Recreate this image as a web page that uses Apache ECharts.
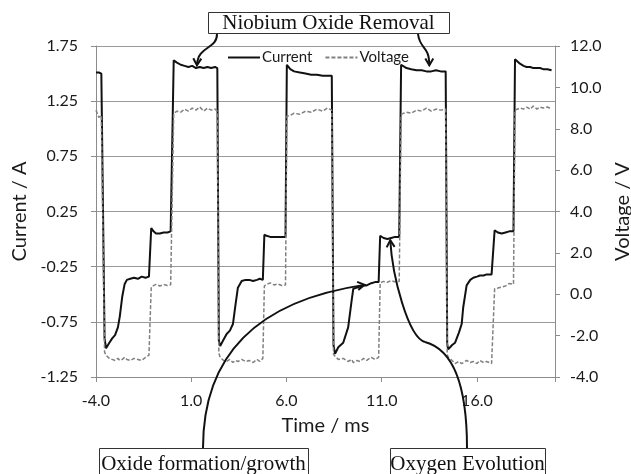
<!DOCTYPE html>
<html>
<head>
<meta charset="UTF-8">
<title>Current / Voltage pulses</title>
<style>
  html, body { margin: 0; padding: 0; background: #fff; }
  #main { width: 631px; height: 474px; }
</style>
</head>
<body>
<div id="main"></div>
<script src="https://cdn.jsdelivr.net/npm/echarts@6/dist/echarts.min.js"></script>
<script>
// shared time base, ms
var timeMs = [
  -4.00, -3.85, -3.72, -3.66,
  -3.55, -3.47, -3.30, -3.15, -3.00, -2.85, -2.75, -2.62, -2.50, -2.38, -2.20, -2.00, -1.80, -1.60, -1.40, -1.22, -1.16,
  -1.10, -0.98, -0.85, -0.65, -0.45, -0.25, -0.08, 0.02,
  0.08, 0.25, 0.45, 0.65, 0.85, 1.05, 1.25, 1.45, 1.65, 1.85, 2.05, 2.25, 2.37,
  2.45, 2.52, 2.70, 2.86, 3.03, 3.19, 3.32, 3.45, 3.65, 3.85, 4.05, 4.25, 4.45, 4.60, 4.76,
  4.84, 4.95, 5.15, 5.35, 5.55, 5.75, 5.95,
  6.02, 6.20, 6.40, 6.70, 7.00, 7.30, 7.60, 7.90, 8.15, 8.38,
  8.47, 8.55, 8.72, 8.98, 9.24, 9.42, 9.51, 9.70, 9.86, 10.05, 10.21, 10.45, 10.65, 10.84,
  10.92, 11.10, 11.30, 11.50, 11.70, 11.92,
  12.02, 12.30, 12.55, 12.83, 13.10, 13.35, 13.60, 13.85, 14.10, 14.36,
  14.44, 14.49, 14.70, 14.85, 15.05, 15.20, 15.28, 15.46, 15.65, 15.81, 16.00, 16.16, 16.35, 16.51, 16.77, 16.86,
  16.93, 17.10, 17.30, 17.50, 17.70, 17.92,
  18.00, 18.26, 18.45, 18.61, 18.80, 18.96, 19.15, 19.31, 19.48, 19.70, 19.92
];
var currentA = [
  1.51, 1.51, 1.50, 1.50,
  -0.90, -0.99, -0.94, -0.90, -0.87, -0.80, -0.70, -0.52, -0.41, -0.37, -0.36, -0.35, -0.36, -0.34, -0.35, -0.34, -0.35,
  0.10, 0.07, 0.05, 0.05, 0.06, 0.06, 0.07, 0.07,
  1.62, 1.60, 1.58, 1.57, 1.56, 1.57, 1.55, 1.56, 1.55, 1.56, 1.55, 1.56, 1.55,
  -0.92, -0.97, -0.91, -0.86, -0.83, -0.77, -0.60, -0.44, -0.38, -0.37, -0.37, -0.38, -0.37, -0.36, -0.37,
  0.04, 0.03, 0.02, 0.02, 0.02, 0.02, 0.02,
  1.58, 1.54, 1.52, 1.51, 1.50, 1.49, 1.49, 1.48, 1.48, 1.48,
  -0.96, -1.04, -0.98, -0.94, -0.80, -0.56, -0.45, -0.44, -0.43, -0.42, -0.42, -0.40, -0.39, -0.39,
  0.03, 0.01, 0.00, 0.01, 0.02, 0.02,
  1.58, 1.55, 1.54, 1.53, 1.53, 1.52, 1.52, 1.53, 1.52, 1.52,
  -0.95, -1.00, -0.96, -0.94, -0.85, -0.77, -0.62, -0.42, -0.37, -0.35, -0.34, -0.33, -0.33, -0.32, -0.32, -0.32,
  0.08, 0.06, 0.05, 0.06, 0.07, 0.07,
  1.63, 1.59, 1.57, 1.56, 1.56, 1.55, 1.55, 1.55, 1.54, 1.54, 1.53
];
var voltageV = [
  8.90, 8.55, 8.65, 8.60,
  -2.80, -2.95, -3.10, -3.15, -3.20, -3.10, -3.20, -3.15, -3.05, -3.15, -3.20, -3.10, -3.15, -3.20, -3.05, -2.95, -2.90,
  0.35, 0.42, 0.48, 0.40, 0.47, 0.42, 0.46, 0.45,
  8.75, 8.85, 8.80, 8.95, 8.85, 9.00, 8.90, 9.05, 8.85, 9.00, 8.90, 8.95, 8.85,
  -2.85, -3.05, -3.20, -3.25, -3.15, -3.30, -3.20, -3.25, -3.15, -3.25, -3.20, -3.30, -3.15, -3.25, -3.10,
  0.40, 0.48, 0.55, 0.45, 0.50, 0.42, 0.45,
  8.60, 8.65, 8.75, 8.70, 8.85, 8.80, 8.95, 8.85, 9.00, 8.90,
  -2.90, -3.00, -3.15, -3.10, -3.25, -3.15, -3.30, -3.20, -3.25, -3.10, -3.20, -3.05, -3.15, -3.05,
  0.55, 0.62, 0.58, 0.66, 0.60, 0.62,
  8.70, 8.80, 8.75, 8.90, 8.85, 9.00, 8.85, 8.95, 8.90, 8.95,
  -2.90, -3.03, -3.20, -3.35, -3.25, -3.35, -3.30, -3.20, -3.30, -3.25, -3.35, -3.20, -3.30, -3.25, -3.35, -3.30,
  0.27, 0.30, 0.35, 0.40, 0.52, 0.48,
  8.90, 9.00, 8.95, 9.05, 8.95, 9.10, 8.95, 9.05, 9.00, 9.05, 8.95
];

// tick positions
var timeTicks = [-4.0, 1.0, 6.0, 11.0, 16.0];
var currentTicks = [-1.25, -0.75, -0.25, 0.25, 0.75, 1.25, 1.75];
var voltageTicks = [-4, -2, 0, 2, 4, 6, 8, 10, 12];
var timeMax = 20.1;

// annotation arrow tips (time, current)
var removalTips = [[1.3, 1.575], [13.5, 1.575]];
var oxideTip = [10.1, -0.415];
var oxygenTip = [11.45, -0.01];

var chart = echarts.init(document.getElementById('main'), null, { renderer: 'canvas' });

var currentData = timeMs.map(function (t, i) { return [t, currentA[i]]; });
var voltageData = timeMs.map(function (t, i) { return [t, voltageV[i]]; });

var axisGray = '#8c8c8c';
var labelFont = { fontFamily: 'Lato', fontSize: 16, color: '#1a1a1a' };

var option = {
  animation: false,
  backgroundColor: '#fff',
  grid: { left: 96, right: 76, top: 46, bottom: 97, containLabel: false, outerBoundsMode: 'none' },
  legend: {
    data: ['Current', 'Voltage'],
    left: 222, top: 45,
    itemWidth: 32, itemHeight: 14, itemGap: 12,
    itemStyle: { color: 'rgba(0,0,0,0)', borderWidth: 0, opacity: 0 },
    textStyle: { fontFamily: 'Lato', fontSize: 15, color: '#1a1a1a', padding: [0, 0, 0, -3] }
  },
  xAxis: {
    type: 'value',
    min: timeTicks[0], max: timeMax, interval: timeTicks[1] - timeTicks[0],
    name: 'Time / ms', nameLocation: 'middle', nameGap: 39,
    nameTextStyle: { fontFamily: 'Lato', fontSize: 20, color: '#1a1a1a' },
    axisLine: { show: true, onZero: false, lineStyle: { color: axisGray, width: 1 } },
    axisTick: { show: true, length: 5, lineStyle: { color: axisGray } },
    splitLine: { show: false },
    axisLabel: Object.assign({
      margin: 16,
      formatter: function (v) {
        return timeTicks.some(function (k) { return Math.abs(k - v) < 1e-6; }) ? v.toFixed(1) : '';
      }
    }, labelFont)
  },
  yAxis: [{
    type: 'value', position: 'left',
    min: currentTicks[0], max: currentTicks[currentTicks.length - 1],
    interval: currentTicks[1] - currentTicks[0],
    name: 'Current / A', nameLocation: 'middle', nameGap: 53,
    nameTextStyle: { fontFamily: 'Lato', fontSize: 20, color: '#1a1a1a' },
    axisLine: { show: true, onZero: false, lineStyle: { color: axisGray, width: 1 } },
    axisTick: { show: true, length: 5, lineStyle: { color: axisGray } },
    splitLine: { show: true, lineStyle: { color: '#9a9a9a', width: 1 } },
    axisLabel: Object.assign({ margin: 18, formatter: function (v) { return v.toFixed(2); } }, labelFont)
  }, {
    type: 'value', position: 'right',
    min: voltageTicks[0], max: voltageTicks[voltageTicks.length - 1],
    interval: voltageTicks[1] - voltageTicks[0],
    name: 'Voltage / V', nameLocation: 'middle', nameGap: 56,
    nameTextStyle: { fontFamily: 'Lato', fontSize: 20, color: '#1a1a1a' },
    axisLine: { show: true, onZero: false, lineStyle: { color: axisGray, width: 1 } },
    axisTick: { show: true, length: 5, lineStyle: { color: axisGray } },
    splitLine: { show: false },
    axisLabel: Object.assign({ margin: 15, formatter: function (v) { return v.toFixed(1); } }, labelFont)
  }],
  series: [{
    name: 'Current', type: 'line', yAxisIndex: 0,
    data: currentData,
    symbol: 'none', showSymbol: false,
    lineStyle: { color: '#111', width: 2 },
    itemStyle: { color: '#111' },
    z: 3
  }, {
    name: 'Voltage', type: 'line', yAxisIndex: 1,
    data: voltageData,
    symbol: 'none', showSymbol: false,
    lineStyle: { color: '#808080', width: 1.5, type: [4, 2] },
    itemStyle: { color: '#808080' },
    z: 4
  }]
};

chart.setOption(option);

// ---- annotations (boxes, curved arrows) ----
function px(p) { return chart.convertToPixel({ xAxisIndex: 0, yAxisIndex: 0 }, p); }

var ink = '#111';
function curve(p0, c1, c2, p1) {
  return {
    type: 'bezierCurve', z: 100,
    shape: { x1: p0[0], y1: p0[1], cpx1: c1[0], cpy1: c1[1], cpx2: c2[0], cpy2: c2[1], x2: p1[0], y2: p1[1] },
    style: { stroke: ink, lineWidth: 2, fill: null }
  };
}
function arrowHead(tip, from) {
  var dx = from[0] - tip[0], dy = from[1] - tip[1];
  var len = Math.sqrt(dx * dx + dy * dy);
  dx /= len; dy /= len;
  var L = 8, a = Math.PI / 6;
  var p1 = [tip[0] + L * (dx * Math.cos(a) - dy * Math.sin(a)), tip[1] + L * (dx * Math.sin(a) + dy * Math.cos(a))];
  var p2 = [tip[0] + L * (dx * Math.cos(a) + dy * Math.sin(a)), tip[1] + L * (-dx * Math.sin(a) + dy * Math.cos(a))];
  return {
    type: 'polyline', z: 101,
    shape: { points: [p1, tip, p2] },
    style: { stroke: ink, lineWidth: 2, fill: null }
  };
}
function box(x, y, w, h, text) {
  return [{
    type: 'rect', z: 102,
    shape: { x: x + 0.5, y: y + 0.5, width: w, height: h },
    style: { fill: '#fff', stroke: '#333', lineWidth: 1 }
  }, {
    type: 'text', z: 103,
    x: x + w / 2, y: y + h / 2 + 1,
    style: {
      text: text, fill: ink,
      font: '21px "Liberation Serif"',
      align: 'center', verticalAlign: 'middle',
      textAlign: 'center', textVerticalAlign: 'middle'
    }
  }];
}

var g = [];
var tL = px(removalTips[0]), tR = px(removalTips[1]);
g.push(curve([217, 34], [217, 50], [tL[0] + 1, 45], tL));
g.push(arrowHead(tL, [tL[0] + 1, 45]));
g.push(curve([418, 34], [420, 50], [tR[0], 45], tR));
g.push(arrowHead(tR, [tR[0], 45]));

var tO = px(oxideTip);
var oc2 = [tO[0] - 108, tO[1] + 16];
g.push(curve([203, 448], [203, 355], oc2, tO));
g.push(arrowHead(tO, oc2));

var tX = px(oxygenTip);
var mid = [425, 342];
g.push(curve([467, 448], [467, 390], [455, 350], mid));
var xc2 = [tX[0] + 2, tX[1] + 35];
g.push(curve(mid, [408, 337.5], xc2, tX));
g.push(arrowHead(tX, xc2));

g = g.concat(box(208, 12, 241, 21, 'Niobium Oxide Removal'));
g = g.concat(box(99, 448, 209, 30, 'Oxide formation/growth'));
g = g.concat(box(390, 448, 155, 30, 'Oxygen Evolution'));

chart.setOption({ graphic: g });
</script>
</body>
</html>
